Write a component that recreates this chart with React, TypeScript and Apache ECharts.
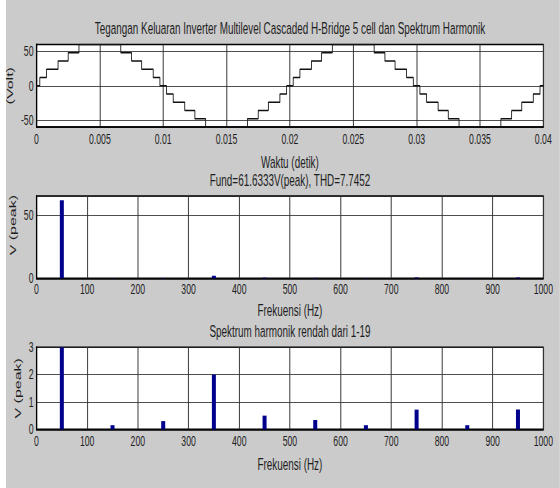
import React, { useEffect, useRef } from 'react';
import * as echarts from 'echarts';

// Output voltage of the 5-cell cascaded H-bridge: switching instants (s) and the level reached after each
const switchTimes = [
  0.00026, 0.00079, 0.0017, 0.0025, 0.00335, 0.00665, 0.0075, 0.0083, 0.00921, 0.00974,
  0.01026, 0.01079, 0.0117, 0.0125, 0.01335, 0.01665, 0.0175, 0.0183, 0.01921, 0.01974,
  0.02026, 0.02079, 0.0217, 0.0225, 0.02335, 0.02665, 0.0275, 0.0283, 0.02921, 0.02974,
  0.03026, 0.03079, 0.0317, 0.0325, 0.03335, 0.03665, 0.0375, 0.0383, 0.03921, 0.03974,
];
const stepLevels = [
  12, 24, 36, 48, 60, 48, 36, 24, 12, 0,
  -12, -24, -36, -48, -60, -48, -36, -24, -12, 0,
  12, 24, 36, 48, 60, 48, 36, 24, 12, 0,
  -12, -24, -36, -48, -60, -48, -36, -24, -12, 0,
];
const timeRange = [0, 0.04];
const voltTicks = [-50, 0, 50];

// Odd harmonics 1..19 of 50 Hz, peak amplitude (V)
const harmonicFreq = [50, 150, 250, 350, 450, 550, 650, 750, 850, 950];
const harmonicPeak = [61.6333, 0.15, 0.3, 2.0, 0.5, 0.34, 0.15, 0.72, 0.15, 0.72];
const fundTicks = [0, 50];

const mainTitle = 'Tegangan Keluaran Inverter Multilevel Cascaded H-Bridge 5 cell dan Spektrum Harmonik';
const fundTitle = 'Fund=61.6333V(peak), THD=7.7452';
const lowTitle = 'Spektrum harmonik rendah dari 1-19';

// The figure uses tall, narrow lettering: draw on a wider canvas and squeeze it horizontally.
const SX = 0.6;
const W = 560 / SX;
const H = 488;
const gx = (px: number) => px / SX;

const FONT = '"Liberation Sans", Arial, sans-serif';
const INK = '#1e1e1e';
const PLOT_L = gx(36.5);
const PLOT_R = W - gx(543.3);

const waveData = [
  [timeRange[0], 0],
  ...switchTimes.map((t, i) => [t, stepLevels[i]]),
  [timeRange[1], stepLevels[stepLevels.length - 1]],
];
const spectrum = harmonicFreq.map((f, i) => [f, harmonicPeak[i]]);

const tickText = { color: INK, fontSize: 14.5, fontFamily: FONT, fontWeight: 'normal' };
const nameText = { color: INK, fontSize: 16.5, fontFamily: FONT, fontWeight: 'normal' };
const sideNameText = { color: INK, fontSize: 16, fontFamily: FONT, fontWeight: 'normal' };

const plainNumber = (v: number) => String(v);

const xBase = (gridIndex: number, min: number, max: number, interval: number, name: string, nameGap: number, margin: number) => ({
  type: 'value',
  gridIndex,
  min,
  max,
  interval,
  name,
  nameLocation: 'middle',
  nameGap,
  nameTextStyle: nameText,
  axisLine: { show: true, onZero: false, lineStyle: { color: '#000', width: 1.5 } },
  axisTick: { show: false },
  axisLabel: { ...tickText, margin, formatter: plainNumber },
  splitLine: { show: true, lineStyle: { color: '#333', width: 1.6 } },
});

const yBase = (gridIndex: number, name: string, nameGap: number, namePadding: number[] = [0, 0, 0, 0]) => ({
  type: 'value',
  gridIndex,
  name,
  nameLocation: 'middle',
  nameGap,
  nameTextStyle: { ...sideNameText, padding: namePadding },
  axisLine: { show: true, onZero: false, lineStyle: { color: '#000', width: 2.2 } },
  axisTick: { show: false },
  splitLine: { show: true, lineStyle: { color: '#222', width: 1 } },
});

const gridBase = {
  left: PLOT_L,
  right: PLOT_R,
  show: true,
  backgroundColor: '#ffffff',
  borderColor: '#000',
  borderWidth: 1.5,
};

const titleText = (text: string, y: number) => ({
  type: 'text',
  x: gx(290),
  y,
  silent: true,
  style: { text, align: 'center', verticalAlign: 'middle', fontSize: 16.5, fontFamily: FONT, fill: INK },
});

const option = {
  animation: false,
  backgroundColor: '#cbcbcb',
  graphic: [
    { type: 'rect', shape: { x: 0, y: 0, width: gx(6), height: H }, style: { fill: '#ffffff' }, silent: true },
    titleText(mainTitle, 28.5),
    titleText(fundTitle, 180.5),
    titleText(lowTitle, 332),
  ],
  grid: [
    { ...gridBase, top: 44.5, height: 82.5 },
    { ...gridBase, top: 196, height: 82.3 },
    { ...gridBase, top: 347.3, height: 82 },
  ],
  xAxis: [
    xBase(0, timeRange[0], timeRange[1], 0.005, 'Waktu (detik)', 27, 5),
    xBase(1, 0, 1000, 100, 'Frekuensi (Hz)', 23.5, 3),
    xBase(2, 0, 1000, 100, 'Frekuensi (Hz)', 26.5, 4.5),
  ],
  yAxis: [
    {
      ...yBase(0, '(Volt)', 32),
      min: -60,
      max: 60,
      interval: 10,
      splitLine: { show: false },
      axisLabel: {
        ...tickText,
        margin: 5,
        formatter: (v: number) => (voltTicks.some((t) => Math.abs(t - v) < 1e-6) ? String(v) : ''),
      },
    },
    {
      ...yBase(1, 'V (peak)', 21, [0, 0, 0, 24]),
      min: 0,
      max: 65,
      interval: 50,
      axisLabel: {
        ...tickText,
        margin: 5,
        formatter: (v: number) => (fundTicks.some((t) => Math.abs(t - v) < 1e-6) ? String(v) : ''),
      },
    },
    {
      ...yBase(2, 'V (peak)', 21),
      min: 0,
      max: 3,
      interval: 1,
      axisLabel: { ...tickText, margin: 5, formatter: plainNumber },
    },
  ],
  series: [
    {
      type: 'line',
      xAxisIndex: 0,
      yAxisIndex: 0,
      step: 'end',
      showSymbol: false,
      clip: true,
      data: waveData,
      lineStyle: { color: '#111', width: 1.4 },
      markLine: {
        silent: true,
        symbol: ['none', 'none'],
        label: { show: false },
        lineStyle: { color: '#222', width: 1, type: 'solid' },
        data: voltTicks.map((v) => ({ yAxis: v })),
      },
    },
    {
      type: 'bar',
      xAxisIndex: 1,
      yAxisIndex: 1,
      clip: true,
      barWidth: gx(4),
      data: spectrum,
      itemStyle: { color: '#00008c' },
    },
    {
      type: 'bar',
      xAxisIndex: 2,
      yAxisIndex: 2,
      clip: true,
      barWidth: gx(4),
      data: spectrum,
      itemStyle: { color: '#00008c' },
    },
  ],
};

export default function App() {
  const ref = useRef<HTMLDivElement>(null);
  useEffect(() => {
    document.body.style.margin = '0';
    const chart = echarts.init(ref.current as HTMLDivElement, null, { renderer: 'svg', width: W, height: H });
    chart.setOption(option as any);
    return () => chart.dispose();
  }, []);
  return (
    <div style={{ width: 560, height: H, overflow: 'hidden', position: 'relative', background: '#ffffff' }}>
      <div ref={ref} style={{ width: W, height: H, transform: `scaleX(${SX})`, transformOrigin: '0 0' }} />
    </div>
  );
}
